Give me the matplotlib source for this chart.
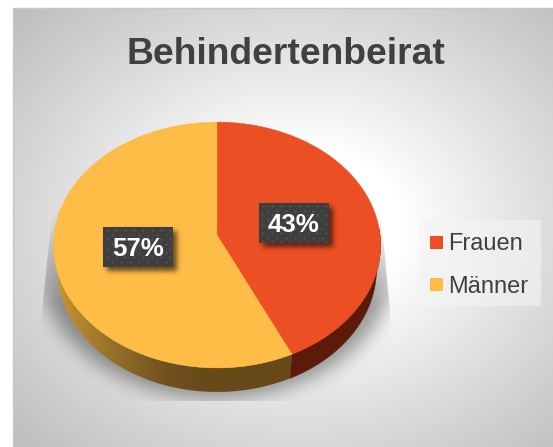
import numpy as np
import matplotlib
matplotlib.use("Agg")
import matplotlib.pyplot as plt
from matplotlib.patches import Polygon, Rectangle

title = "Behindertenbeirat"
categories = ["Frauen", "Männer"]
shares = [43, 57]
colors = ["#EC4F23", "#FFBD47"]
side_red = "#5C1B0A"

W, H = 553, 447
plt.rcParams["font.family"] = ["Liberation Sans", "DejaVu Sans"]
fig = plt.figure(figsize=(W / 100, H / 100), dpi=100)
ax = fig.add_axes([0, 0, 1, 1])
ax.axis("off")
yy, xx = np.mgrid[0:H, 0:W] + 0.5


def blur(a, s):
    n = int(3 * s)
    k = np.exp(-0.5 * (np.arange(-n, n + 1) / s) ** 2)
    k /= k.sum()
    a = np.apply_along_axis(lambda m: np.convolve(np.pad(m, n, mode="edge"), k, "valid"), 0, a)
    a = np.apply_along_axis(lambda m: np.convolve(np.pad(m, n, mode="edge"), k, "valid"), 1, a)
    return a


def overlay(alpha, rgb=(0, 0, 0), clip=None, z=1):
    img = np.zeros((H, W, 4))
    img[..., :3] = rgb
    img[..., 3] = alpha
    im = ax.imshow(img, extent=(0, W, H, 0), zorder=z, interpolation="bilinear", aspect="auto")
    if clip is not None:
        im.set_clip_path(clip)
    return im


# panel background (radial gradient)
r = np.hypot((xx - 300) / 285, (yy - 228) / 225)
g = 1 - 0.25 * np.clip((r - 0.36) / 1.0, 0, 1) ** 0.95
bg = np.dstack([g, g, g])
bg[yy < 8] = 1
bg[xx < 13] = 1
ax.imshow(bg, extent=(0, W, H, 0), zorder=0, aspect="auto", vmin=0, vmax=1)
ax.plot([13, 13, W], [H, 8, 8], color="#C8C8C8", lw=1, zorder=1)

# projected pie
CX, A, K, B0, B1 = 217, 163, -0.0813, 235, 103
DEPTH, SIDE_SCALE = 24, 0.975


def project(theta, scale=1.0, dy=0.0):
    u, v = np.sin(theta), -np.cos(theta)
    w = 1 + K * v
    return CX + scale * A * u / w, (B1 * v + B0) / w + dy


def apex():
    return CX, B0


# floor shadow
mask = (((xx - 217) / 176) ** 2 + ((yy - 268) / 130) ** 2 < 1).astype(float)
fade = np.clip((yy - 205) / 100, 0, 1)
clip_shape = Polygon([(53, 205), (42, 310), (42, 401), (392, 401), (390, 310), (380, 205)],
                     transform=ax.transData)
overlay(0.38 * blur(mask, 9) * fade, clip=clip_shape, z=2)

# slices
cuts = np.cumsum([0] + shares) / sum(shares) * 2 * np.pi
split = cuts[1]

# side walls
t_red = np.linspace(np.pi / 2 - 0.05, split, 80)
x1, y1 = project(t_red)
x2, y2 = project(t_red[::-1], SIDE_SCALE, DEPTH)
ax.add_patch(Polygon(np.r_[np.c_[x1, y1], np.c_[x2, y2]], fc=side_red, ec=side_red, lw=0.4, zorder=3))

t_yel = np.linspace(split, 3 * np.pi / 2 + 0.05, 160)
x1, y1 = project(t_yel)
x2, y2 = project(t_yel[::-1], SIDE_SCALE, DEPTH)
yel_poly = Polygon(np.r_[np.c_[x1, y1], np.c_[x2, y2]], fc="none", ec="none", transform=ax.transData)
xs = np.array([50, 70, 100, 130, 165, 200, 300])
rs = np.array([0xD0, 0xBC, 0xA0, 0x88, 0x72, 0x68, 0x68])
gs = np.array([0x9A, 0x8C, 0x78, 0x66, 0x52, 0x49, 0x49])
bs = np.array([0x30, 0x2E, 0x2A, 0x26, 0x1E, 0x1A, 0x1A])
col = np.arange(W) + 0.5
grad = np.dstack([np.interp(col, xs, c) / 255 for c in (rs, gs, bs)])[0]
grad_img = np.repeat(grad[None, :, :], H, axis=0)
im = ax.imshow(grad_img, extent=(0, W, H, 0), zorder=3, aspect="auto")
im.set_clip_path(yel_poly)

# top faces
for i, (name, c) in enumerate(zip(categories, colors)):
    t = np.linspace(cuts[i], cuts[i + 1], 200)
    x, y = project(t)
    pts = np.r_[[apex()], np.c_[x, y]]
    ax.add_patch(Polygon(pts, fc=c, ec=c, lw=0.3, zorder=4, label=name))

# data labels
label_boxes = [(259, 203), (103, 227)]
bw, bh = 70, 40
shadow = np.zeros((H, W))
for bx, by in label_boxes:
    shadow[by + 4:by + bh + 4, bx + 4:bx + bw + 4] = 1
overlay(0.6 * blur(shadow, 2.6), z=5)
for (bx, by), v in zip(label_boxes, shares):
    ax.add_patch(Rectangle((bx, by), bw, bh, fc="#3F3F3F", ec="none", zorder=6))
    dots_x, dots_y = [], []
    for j, dy in enumerate(np.arange(3, bh, 4.5)):
        for dx in np.arange(4 + (j % 2) * 4.5, bw, 9):
            dots_x.append(bx + dx)
            dots_y.append(by + dy)
    ax.scatter(dots_x, dots_y, s=2.2, color="#565656", linewidths=0, zorder=7)
    ax.text(bx + bw / 2, by + bh / 2 + 2, f"{v}%", color="white", fontsize=18.6, fontweight="bold",
            ha="center", va="center", zorder=8)

# legend
ax.add_patch(Rectangle((419, 220), 122, 86, fc="#F4F4F4", alpha=0.6, ec="none", zorder=3))
for yc, name, c in zip([242, 284.5], categories, colors):
    ax.add_patch(Rectangle((430, yc - 6.5), 13, 13, fc=c, ec="none", zorder=4))
    ax.text(448.5, yc + 8.5, name, color="#404040", fontsize=17, ha="left", va="baseline", zorder=4)

# title
ax.text(286, 64, title, color="#404040", fontsize=26.8, fontweight="bold",
        ha="center", va="baseline", zorder=4)

ax.set_xlim(0, W)
ax.set_ylim(H, 0)
fig.savefig("out.png", dpi=100)
